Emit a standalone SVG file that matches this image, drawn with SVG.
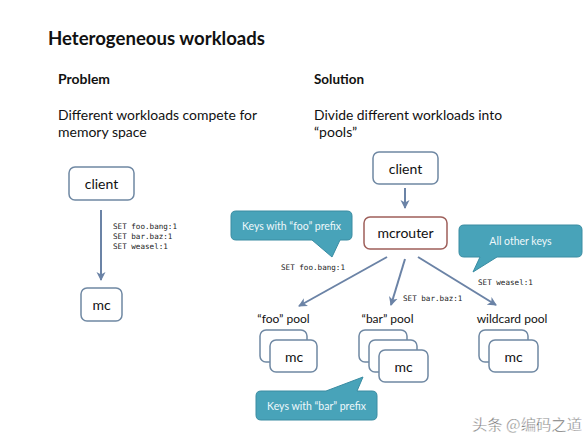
<svg xmlns="http://www.w3.org/2000/svg" width="588" height="437" viewBox="0 0 588 437">
<defs>
<marker id="arr" markerWidth="10" markerHeight="10" refX="8" refY="5" orient="auto" markerUnits="userSpaceOnUse">
<path d="M0,0.5 L9,5 L0,9.5 L2.5,5 Z" fill="#6b83a6"/>
</marker>
<style>
.t{font-family:Lato,"Open Sans","Liberation Sans",sans-serif;fill:#111}
.b{font-weight:bold}
.m{font-family:"DejaVu Sans Mono","Liberation Mono",monospace;font-size:7.6px;fill:#222}
.box{fill:#fff;stroke:#6f88a3;stroke-width:1.5}
.nt{font-family:Lato,"Open Sans","Liberation Sans",sans-serif;font-size:14px;fill:#111;text-anchor:middle}
.pl{font-family:Lato,"Open Sans","Liberation Sans",sans-serif;font-size:12px;fill:#111;text-anchor:middle}
.co{fill:#48a3b9;stroke:#3a8ca2;stroke-width:1}
.ct{font-family:Lato,"Open Sans","Liberation Sans",sans-serif;font-size:10.5px;fill:#eef8fb;text-anchor:middle}
.ln{stroke:#6b83a6;stroke-width:2;fill:none;marker-end:url(#arr)}
</style>
</defs>
<rect width="588" height="437" fill="#fff"/>

<text class="t b" x="48" y="45" font-size="18" textLength="217" lengthAdjust="spacingAndGlyphs">Heterogeneous workloads</text>
<text class="t b" x="58" y="84" font-size="14" textLength="52" lengthAdjust="spacingAndGlyphs">Problem</text>
<text class="t" x="58" y="120" font-size="14" textLength="199" lengthAdjust="spacingAndGlyphs">Different workloads compete for</text>
<text class="t" x="58" y="137" font-size="14">memory space</text>
<text class="t b" x="314" y="84" font-size="14" textLength="50" lengthAdjust="spacingAndGlyphs">Solution</text>
<text class="t" x="314" y="120" font-size="14" textLength="188" lengthAdjust="spacingAndGlyphs">Divide different workloads into</text>
<text class="t" x="314" y="137" font-size="14">“pools”</text>

<g id="connectors">
<line class="ln" x1="101" y1="210" x2="101" y2="280"/>
<line class="ln" x1="405" y1="188" x2="405" y2="208"/>
<line class="ln" x1="387" y1="257" x2="299" y2="306"/>
<line class="ln" x1="405" y1="259" x2="391" y2="305"/>
<line class="ln" x1="418" y1="257" x2="496" y2="305"/>
<text class="m" x="113" y="229">SET foo.bang:1</text>
<text class="m" x="113" y="239">SET bar.baz:1</text>
<text class="m" x="113" y="249">SET weasel:1</text>
<text class="m" x="281" y="270">SET foo.bang:1</text>
<text class="m" x="403" y="301">SET bar.baz:1</text>
<text class="m" x="478" y="285">SET weasel:1</text>
</g>

<g id="client-left">
<rect class="box" x="69" y="167" width="65" height="33" rx="6"/>
<text class="nt" x="101.5" y="189">client</text>
</g>
<g id="mc-left">
<rect class="box" x="81" y="288" width="41" height="33" rx="6"/>
<text class="nt" x="101.5" y="310">mc</text>
</g>
<g id="client-right">
<rect class="box" x="373" y="152" width="65" height="32" rx="6"/>
<text class="nt" x="405.5" y="174">client</text>
</g>
<g id="mcrouter">
<rect x="364" y="217" width="83" height="32" rx="6" fill="#fff" stroke="#9e5f5a" stroke-width="1.5"/>
<text class="nt" x="405.5" y="238">mcrouter</text>
</g>

<g id="foo-pool">
<text class="pl" x="283.5" y="323">“foo” pool</text>
<rect class="box" x="260" y="330" width="47" height="32" rx="6"/>
<rect class="box" x="270" y="340" width="47" height="32" rx="6"/>
<text class="nt" x="294" y="362">mc</text>
</g>
<g id="bar-pool">
<text class="pl" x="387.5" y="323">“bar” pool</text>
<rect class="box" x="359" y="330" width="48" height="32" rx="6"/>
<rect class="box" x="369" y="340" width="48" height="32" rx="6"/>
<rect class="box" x="379" y="350" width="49" height="32" rx="6"/>
<text class="nt" x="403.5" y="372">mc</text>
</g>
<g id="wildcard-pool">
<text class="pl" x="512" y="323">wildcard pool</text>
<rect class="box" x="479" y="330" width="49" height="32" rx="6"/>
<rect class="box" x="489" y="340" width="49" height="32" rx="6"/>
<text class="nt" x="513.5" y="362">mc</text>
</g>

<g id="callout-foo">
<path class="co" d="M236,211 H347 Q352,211 352,216 V235 Q352,240 347,240 H340 L332,257 L312,240 H236 Q231,240 231,235 V216 Q231,211 236,211 Z"/>
<text class="ct" x="291.5" y="229.5">Keys with “foo” prefix</text>
</g>
<g id="callout-other">
<path class="co" d="M464,225 H577 Q582,225 582,230 V252 Q582,257 577,257 H497 L473,272 L480,257 H464 Q459,257 459,252 V230 Q459,225 464,225 Z"/>
<text class="ct" x="520.5" y="245">All other keys</text>
</g>
<g id="callout-bar">
<path class="co" d="M261,391 H326 L363,377 L357,391 H372 Q377,391 377,396 V415 Q377,420 372,420 H261 Q256,420 256,415 V396 Q256,391 261,391 Z"/>
<text class="ct" x="316.5" y="409.5">Keys with “bar” prefix</text>
</g>

<text x="472" y="430" font-family="'Noto Sans CJK SC',sans-serif" font-size="15" fill="#666" stroke="#fff" stroke-width="0.4" textLength="110" lengthAdjust="spacingAndGlyphs">头条 @编码之道</text>
</svg>
